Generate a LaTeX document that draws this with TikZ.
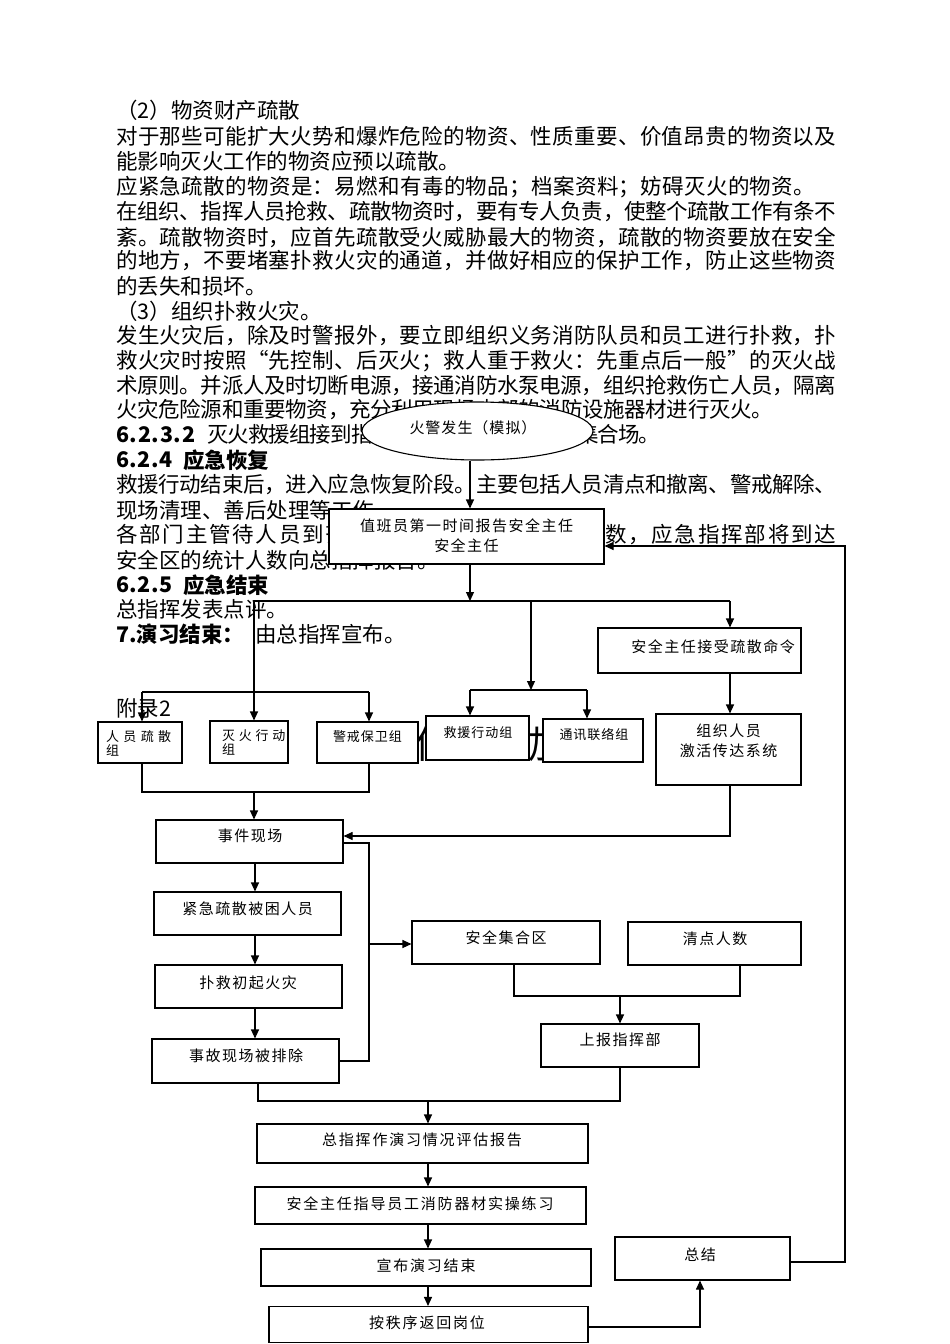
\documentclass[tikz,border=0pt]{standalone}
\usepackage{fontspec}
\setmainfont{Noto Sans CJK SC}
\usetikzlibrary{arrows.meta,shapes.geometric}
\newcommand\jgap{\hskip 0pt plus 1fil minus 2pt}
\ExplSyntaxOn
\NewDocumentCommand\jline{mm}{\hbox~to~#1pt{\tl_map_inline:nn{#2}{##1\jgap}\unskip}}
\NewDocumentCommand\spc{mm}{\tl_map_inline:nn{#2}{##1\hskip#1pt}\unskip}
\ExplSyntaxOff
\newcommand\bodyfs{\fontsize{21.5}{24}\selectfont}
\newcommand\labfs{\fontsize{15}{20}\selectfont}
\newcommand\grpfs{\fontsize{13}{14}\selectfont}
\begin{document}
\begin{tikzpicture}[x=1pt,y=-1pt,
  txt/.style={anchor=west,inner sep=0pt,font=\bodyfs},
  btxt/.style={anchor=west,inner sep=0pt,font=\bodyfs\bfseries},
  box/.style={draw,line width=1.1pt,fill=white,inner sep=0pt},
  lab/.style={inner sep=0pt,font=\labfs,align=center},
  glab/.style={inner sep=0pt,font=\grpfs,align=left},
  conn/.style={line width=1.1pt},
  arr/.style={line width=1.1pt,-{Triangle[length=9pt,width=8pt]}}]
\fill[white] (0,0) rectangle (950,1344);
\useasboundingbox (0,0) rectangle (950,1344);

% ---------- body text ----------
\node[txt] (t0) at (116,110) {（2）物资财产疏散};
\node[txt] (t1) at (116,136) {\jline{720}{对于那些可能扩大火势和爆炸危险的物资、性质重要、价值昂贵的物资以及}};
\node[txt] (t2) at (116,161) {能影响灭火工作的物资应预以疏散。};
\node[txt] (t3) at (116,187) {\jline{699}{应紧急疏散的物资是：易燃和有毒的物品；档案资料；妨碍灭火的物资。}};
\node[txt] (t4) at (116,212) {\jline{720}{在组织、指挥人员抢救、疏散物资时，要有专人负责，使整个疏散工作有条不}};
\node[txt] (t5) at (116,237) {\jline{720}{紊。疏散物资时，应首先疏散受火威胁最大的物资，疏散的物资要放在安全}};
\node[txt] (t6) at (116,261) {\jline{720}{的地方，不要堵塞扑救火灾的通道，并做好相应的保护工作，防止这些物资}};
\node[txt] (t7) at (116,286) {的丢失和损坏。};
\node[txt] (t8) at (116,311) {（3）组织扑救火灾。};
\node[txt] (t9) at (116,336) {\jline{720}{发生火灾后，除及时警报外，要立即组织义务消防队员和员工进行扑救，扑}};
\node[txt] (t10) at (116,361) {\jline{720}{救火灾时按照“先控制、后灭火；救人重于救火：先重点后一般”的灭火战}};
\node[txt] (t11) at (116,386) {\jline{720}{术原则。并派人及时切断电源，接通消防水泵电源，组织抢救伤亡人员，隔离}};
\node[txt] (t12) at (116,410) {\jline{657}{火灾危险源和重要物资，充分利用现场内部的消防设施器材进行灭火。}};
\node[btxt] (t13a) at (116,435) {\jline{79}{6.2.3.2}};
\node[txt] (t13b) at (207,435) {\jline{453}{灭火救援组接到指令后，应迅速到达指定集合场。}};
\node[btxt] (t14a) at (116,460) {\jline{56}{6.2.4}};
\node[btxt] (t14b) at (183,460) {应急恢复};
\node[txt] (t15) at (116,485) {\jline{720}{救援行动结束后，进入应急恢复阶段。主要包括人员清点和撤离、警戒解除、}};
\node[txt] (t16) at (116,510) {现场清理、善后处理等工作。};
\node[txt] (t17) at (116,535) {\jline{720}{各部门主管待人员到齐后，应立即清点本部门人数，应急指挥部将到达}};
\node[txt] (t18) at (116,560) {安全区的统计人数向总指挥报告。};
\node[btxt] (t19a) at (116,585) {\jline{56}{6.2.5}};
\node[btxt] (t19b) at (183,585) {应急结束};
\node[txt] (t20) at (116,609) {总指挥发表点评。};
\node[btxt] (t21a) at (116,634) {7.演习结束：};
\node[txt] (t21b) at (255,634) {由总指挥宣布。};
\node[txt] (t22) at (116,708) {附录2};
\node[anchor=west,inner sep=0pt,font=\fontsize{38}{40}\selectfont] (title) at (414,744) {作业参加};

% ---------- shapes ----------
\node[box,ellipse,minimum width=231pt,minimum height=58pt] (ell) at (477.5,431) {};
\node[lab] (ell-l) at (473,428) {\spc{1}{火警发生（模拟）}};

\node[box,minimum width=275pt,minimum height=55pt] (duty) at (466.5,536.5) {};
\node[lab] (duty-l) at (466.5,536) {\spc{1.5}{值班员第一时间报告安全主任}\\\spc{1.5}{安全主任}};

\node[box,minimum width=84pt,minimum height=41pt] (n1) at (140,742.5) {};
\node[glab,anchor=north west] (n1-l) at (106,730) {\spc{4.3}{人员疏散}\\组};
\node[box,minimum width=78pt,minimum height=42pt] (n2) at (249,742) {};
\node[glab,anchor=north west] (n2-l) at (222,729) {\spc{3.7}{灭火行动}\\组};
\node[box,minimum width=101pt,minimum height=41pt] (n3) at (367.5,742.5) {};
\node[glab] (n3-l) at (367.5,737) {\spc{1}{警戒保卫组}};
\node[box,minimum width=103pt,minimum height=44pt] (n4) at (477.5,738) {};
\node[glab] (n4-l) at (478,733) {\spc{1}{救援行动组}};
\node[box,minimum width=100pt,minimum height=43pt] (n5) at (593,740.5) {};
\node[glab] (n5-l) at (594,735) {\spc{1}{通讯联络组}};

\node[box,minimum width=203pt,minimum height=45pt] (cmd) at (699.5,650.5) {};
\node[lab] (cmd-l) at (713,647) {\spc{1.5}{安全主任接受疏散命令}};
\node[box,minimum width=145pt,minimum height=71pt] (org) at (728.5,749.5) {};
\node[lab] (org-l) at (728.5,741) {\spc{1.5}{组织人员}\\\spc{1.5}{激活传达系统}};

\node[box,minimum width=187pt,minimum height=43pt] (scene) at (249.5,841.5) {};
\node[lab] (scene-l) at (250,836) {\spc{1.5}{事件现场}};
\node[box,minimum width=187pt,minimum height=43pt] (evac) at (247.5,913.5) {};
\node[lab] (evac-l) at (247.5,909) {\spc{1.5}{紧急疏散被困人员}};
\node[box,minimum width=187pt,minimum height=43pt] (fight) at (248.5,986.5) {};
\node[lab] (fight-l) at (248,983) {\spc{1.5}{扑救初起火灾}};
\node[box,minimum width=187pt,minimum height=44pt] (clear) at (245.5,1061) {};
\node[lab] (clear-l) at (246,1056) {\spc{1.5}{事故现场被排除}};

\node[box,minimum width=188pt,minimum height=43pt] (safe) at (506,942.5) {};
\node[lab] (safe-l) at (506,938) {\spc{1.5}{安全集合区}};
\node[box,minimum width=173pt,minimum height=43pt] (count) at (714.5,943.5) {};
\node[lab] (count-l) at (715,939) {\spc{1.5}{清点人数}};
\node[box,minimum width=158pt,minimum height=43pt] (report) at (620,1045.5) {};
\node[lab] (report-l) at (620,1040) {\spc{1.5}{上报指挥部}};

\node[box,minimum width=331pt,minimum height=39pt] (eval) at (422.5,1143.5) {};
\node[lab] (eval-l) at (422,1140) {\spc{1.8}{总指挥作演习情况评估报告}};
\node[box,minimum width=331pt,minimum height=37pt] (drill) at (420.5,1205.5) {};
\node[lab] (drill-l) at (420,1204) {\spc{1.8}{安全主任指导员工消防器材实操练习}};
\node[box,minimum width=330pt,minimum height=37pt] (announce) at (426,1267.5) {};
\node[lab] (announce-l) at (426,1266) {\spc{1.8}{宣布演习结束}};
\node[box,minimum width=319pt,minimum height=36pt] (back) at (428.5,1324.5) {};
\node[lab] (back-l) at (427,1323) {\spc{1.8}{按秩序返回岗位}};
\node[box,minimum width=175pt,minimum height=43pt] (sum) at (702.5,1258.5) {};
\node[lab] (sum-l) at (700,1255) {\spc{1.5}{总结}};

% ---------- connectors ----------
\coordinate (x470) at (470,0);
\draw[arr] (ell.south -| x470) -- (duty.north -| x470);
\coordinate (sp) at (470,601);
\coordinate (spL) at (254,601);
\coordinate (spM) at (531,601);
\coordinate (spR) at (730,601);
\draw[conn] (spL) -- (spR);
\draw[arr] (duty.south -| sp) -- (sp);
\draw[arr] (spL) -- (n2.north -| spL);
\coordinate (bL1) at (142,692);
\coordinate (bL2) at (369,692);
\draw[conn] (bL1) -- (bL2);
\draw[arr] (bL1) -- (n1.north -| bL1);
\draw[arr] (bL2) -- (n3.north -| bL2);
\coordinate (bM) at (531,690);
\coordinate (bM1) at (470,690);
\coordinate (bM2) at (587,690);
\draw[arr] (spM) -- (bM);
\draw[conn] (bM1) -- (bM2);
\draw[arr] (bM1) -- (n4.north -| bM1);
\draw[arr] (bM2) -- (n5.north -| bM2);
\draw[arr] (spR) -- (cmd.north -| spR);
\draw[arr] (cmd.south -| spR) -- (org.north -| spR);
\coordinate (o1) at (730,836);
\draw[arr] (org.south -| o1) -- (o1) -- (scene.east |- o1);
\coordinate (m1) at (142,792);
\coordinate (m2) at (369,792);
\coordinate (m0) at (254,792);
\draw[conn] (n1.south -| m1) -- (m1) -- (m2) -- (n3.south -| m2);
\draw[arr] (m0) -- (scene.north -| m0);
\coordinate (col) at (255,0);
\draw[arr] (scene.south -| col) -- (evac.north -| col);
\draw[arr] (evac.south -| col) -- (fight.north -| col);
\draw[arr] (fight.south -| col) -- (clear.north -| col);
\coordinate (r1) at (369,843);
\coordinate (r2) at (369,1061);
\coordinate (r3) at (369,944);
\draw[conn] (scene.east |- r1) -- (r1) -- (r2) -- (clear.east |- r2);
\draw[arr] (r3) -- (safe.west |- r3);
\coordinate (s1) at (514,996);
\coordinate (s2) at (740,996);
\coordinate (s0) at (620,996);
\draw[conn] (safe.south -| s1) -- (s1) -- (s2) -- (count.south -| s2);
\draw[arr] (s0) -- (report.north -| s0);
\coordinate (u1) at (620,1101);
\coordinate (u2) at (258,1101);
\coordinate (u0) at (428,1101);
\draw[conn] (report.south -| u1) -- (u1) -- (u2) -- (clear.south -| u2);
\draw[arr] (u0) -- (eval.north -| u0);
\coordinate (col2) at (428,0);
\draw[arr] (eval.south -| col2) -- (drill.north -| col2);
\draw[arr] (drill.south -| col2) -- (announce.north -| col2);
\draw[arr] (announce.south -| col2) -- (back.north -| col2);
\coordinate (k1) at (700,1327);
\draw[arr] (back.east |- k1) -- (k1) -- (sum.south -| k1);
\coordinate (z1) at (845,1262);
\coordinate (z2) at (845,546);
\draw[arr] (sum.east |- z1) -- (z1) -- (z2) -- (duty.east |- z2);
\end{tikzpicture}
\end{document}
